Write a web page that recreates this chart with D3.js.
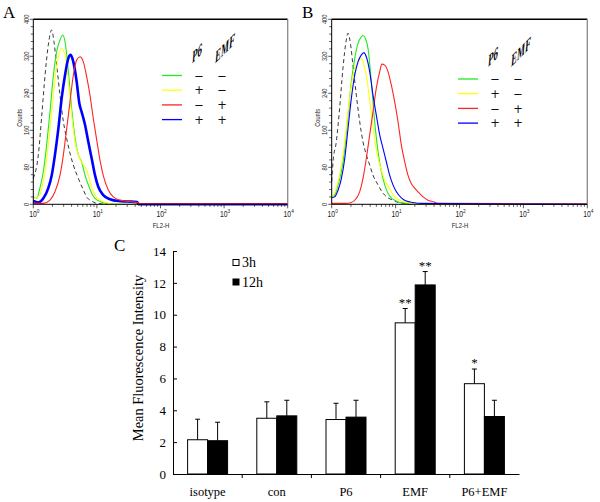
<!DOCTYPE html>
<html><head><meta charset="utf-8">
<script src="https://cdn.jsdelivr.net/npm/d3@7"></script>
<style>body{margin:0;background:#fff}svg{display:block}</style>
</head><body>
<svg id="fig" width="600" height="502"></svg>
<script>
// ---------- DATA ----------
// Panel A histograms: [FL2-H, counts]
const histA_isotype = [[1.00,56],[1.20,107],[1.36,193],[1.53,279],[1.72,344],[1.95,377],[2.11,352],[2.33,301],[2.63,236],[2.97,179],[3.35,142],[3.78,110],[4.26,85],[5.11,56],[6.12,31],[6.90,16],[8.28,7],[9.91,2],[15,0]];
const histA_con = [[1.00,16],[1.13,13],[1.27,35],[1.44,71],[1.62,128],[1.83,200],[2.07,279],[2.33,330],[2.63,355],[2.90,366],[3.15,352],[3.56,287],[4.01,207],[4.53,143],[5.11,107],[5.75,92],[6.50,63],[7.33,42],[8.28,24],[9.33,13],[11.2,6],[14.3,2],[20,0],[10000,0]];
const histA_P6 = [[1.00,13],[1.20,16],[1.36,35],[1.53,71],[1.72,128],[1.95,200],[2.19,272],[2.48,319],[2.79,337],[3.15,323],[3.56,265],[4.01,193],[4.53,135],[5.11,107],[6.12,85],[6.90,74],[7.78,49],[8.79,27],[9.91,14],[11.9,7],[15.1,2],[20,0],[10000,0]];
const histA_EMF = [[1.00,2],[1.44,2],[1.83,9],[2.19,27],[2.63,63],[2.97,107],[3.35,164],[3.78,222],[4.26,279],[4.81,312],[5.42,319],[6.12,308],[6.90,276],[7.78,236],[8.79,185],[9.91,140],[11.2,95],[12.6,62],[15.1,31],[18.1,16],[23.1,9],[33.1,6],[45,3],[50,1],[10000,1]];
const histA_P6EMF = [[1.00,7],[1.20,4],[1.44,13],[1.72,35],[1.95,63],[2.19,107],[2.48,164],[2.79,229],[3.15,279],[3.56,316],[3.87,323],[4.26,308],[4.81,265],[5.30,218],[5.75,200],[6.50,172],[7.33,135],[8.28,99],[9.33,63],[10.5,38],[12.6,20],[16.1,11],[21.7,7],[30,6],[43,5],[45,0],[10000,0]];
// Panel B histograms
const histB_isotype = [[1.00,49],[1.05,92],[1.18,135],[1.33,207],[1.50,294],[1.69,355],[1.80,370],[1.98,344],[2.15,301],[2.43,236],[2.74,179],[3.09,135],[3.48,107],[3.93,85],[4.43,63],[5.31,42],[6.35,24],[7.60,14],[9.10,9],[10.9,4],[13.9,2],[20,0]];
const histB_con = [[1.00,16],[1.11,20],[1.26,42],[1.42,71],[1.60,121],[1.80,193],[2.03,265],[2.29,315],[2.58,348],[2.91,362],[3.09,365],[3.36,359],[3.70,337],[4.17,265],[4.70,179],[5.31,114],[5.98,71],[6.75,42],[7.60,24],[8.57,14],[9.66,9],[11.6,4],[14.7,2],[20,0],[10000,0]];
const histB_P6 = [[1.00,16],[1.11,24],[1.26,49],[1.42,85],[1.60,135],[1.80,200],[2.03,258],[2.29,294],[2.58,308],[2.91,316],[3.20,301],[3.61,265],[4.07,207],[4.59,150],[5.18,107],[5.85,78],[6.58,56],[7.43,42],[8.57,27],[9.66,16],[11.6,9],[14.7,4],[18.7,1],[25,0],[10000,0]];
const histB_EMF = [[1.00,2],[1.60,2],[2.03,4],[2.43,13],[2.74,27],[3.09,56],[3.48,99],[3.93,150],[4.43,200],[4.99,251],[5.64,287],[6.12,303],[6.75,301],[7.60,287],[8.57,258],[9.66,222],[10.9,179],[12.3,128],[13.9,92],[15.6,63],[17.6,45],[19.9,35],[22.4,27],[26.9,16],[32.1,9],[40,5],[45,2],[10000,1]];
const histB_P6EMF = [[1.00,14],[1.11,16],[1.26,31],[1.42,56],[1.60,99],[1.80,164],[2.03,229],[2.29,279],[2.58,308],[2.91,323],[3.20,328],[3.48,319],[3.93,287],[4.43,236],[4.99,193],[5.64,150],[6.35,121],[7.16,92],[8.07,63],[9.10,42],[10.3,27],[12.3,14],[14.7,7],[18.7,4],[25.3,2],[10000,0]];

const countTicks = [0, 80, 160, 240, 320, 400];
const flDecades = [0, 1, 2, 3, 4];
const legendP6  = ["\u2212", "+", "\u2212", "+"];
const legendEMF = ["\u2212", "\u2212", "+", "+"];
const legendHeaders = ["P6", "EMF"];

// Panel C
const categories = ["isotype", "con", "P6", "EMF", "P6+EMF"];
const seriesNames = ["3h", "12h"];
const mean3h  = [2.15, 3.50, 3.42, 9.49, 5.67];
const err3h   = [1.29, 1.03, 1.02, 0.90, 0.92];
const mean12h = [2.09, 3.65, 3.57, 11.87, 3.61];
const err12h  = [1.16, 0.98, 1.06, 0.84, 1.02];
const sig3h   = ["", "", "", "**", "*"];
const sig12h  = ["", "", "", "**", ""];
const meanTicks = [0, 2, 4, 6, 8, 10, 12, 14];

// ---------- DRAW ----------
const svg = d3.select("#fig");
const sans = "'Liberation Sans', Arial, sans-serif";
const serif = "'Liberation Serif', 'Times New Roman', serif";
const colIso = "#222222", colCon = "#22e822", colP6 = "#ffff10", colEMF = "#ff2424", colBoth = "#0000ff";
const legendColors = [colCon, colP6, colEMF, colBoth];

function drawHist(letter, letterX, left, right, curves, legX, legY0) {
  const top = 19.3, bottom = 204.3;
  const g = svg.append("g");
  const x = d3.scaleLog().domain([1, 1e4]).range([left, right]);
  const y = d3.scaleLinear().domain([0, 400]).range([bottom, top]);

  g.append("text").attr("x", letterX).attr("y", 18).attr("font-family", serif)
    .attr("font-size", 17).text(letter);

  d3.range(0, 401, 16).forEach(v => {
    const major = countTicks.includes(v);
    g.append("line").attr("x1", left - (major ? 3.5 : 2.5)).attr("x2", left)
      .attr("y1", y(v)).attr("y2", y(v)).attr("stroke", "#333").attr("stroke-width", 0.8);
  });
  countTicks.forEach(v => {
    g.append("g").attr("transform", `translate(${left - 4.5},${y(v)}) rotate(-90) scale(0.72,1)`)
      .append("text").attr("text-anchor", "middle").attr("font-family", sans)
      .attr("font-size", 8).attr("fill", "#222").text(v);
  });
  g.append("g").attr("transform", `translate(${left - 11.5},${(top + bottom) / 2 + 6}) rotate(-90) scale(0.75,1)`)
    .append("text").attr("text-anchor", "middle").attr("font-family", sans)
    .attr("font-size", 7.5).attr("fill", "#222").text("Counts");

  flDecades.forEach(k => {
    const mults = k < 4 ? d3.range(1, 10) : [1];
    mults.forEach(m => {
      const v = m * Math.pow(10, k);
      g.append("line").attr("x1", x(v)).attr("x2", x(v)).attr("y1", bottom)
        .attr("y2", bottom + (m === 1 ? 4 : 2.5)).attr("stroke", "#333").attr("stroke-width", 0.8);
    });
    const t = g.append("g").attr("transform", `translate(${x(Math.pow(10, k)) + 1},216.5) scale(0.8,1)`)
      .append("text").attr("text-anchor", "middle").attr("font-family", sans)
      .attr("font-size", 8.5).attr("fill", "#222");
    t.append("tspan").text("10");
    t.append("tspan").attr("dy", -3.5).attr("font-size", 6).text(k);
  });
  g.append("g").attr("transform", `translate(${(left + right) / 2 + 0.5},228) scale(0.8,1)`)
    .append("text").attr("text-anchor", "middle").attr("font-family", sans)
    .attr("font-size", 7.5).attr("fill", "#222").text("FL2-H");

  const line = d3.line().x(d => x(d[0])).y(d => y(d[1])).curve(d3.curveMonotoneX);
  curves.forEach(c => {
    g.append("path").datum(c.data).attr("d", line).attr("fill", "none")
      .attr("stroke", c.color).attr("stroke-width", c.width)
      .attr("stroke-dasharray", c.dash || null);
  });

  g.append("line").attr("x1", left).attr("x2", right).attr("y1", top).attr("y2", top)
    .attr("stroke", "#000").attr("stroke-width", 1.4);
  g.append("line").attr("x1", right).attr("x2", right).attr("y1", top).attr("y2", bottom)
    .attr("stroke", "#8a8a8a").attr("stroke-width", 1.3);
  g.append("line").attr("x1", left).attr("x2", left).attr("y1", top).attr("y2", bottom)
    .attr("stroke", "#000").attr("stroke-width", 1);
  g.append("line").attr("x1", left).attr("x2", right).attr("y1", bottom).attr("y2", bottom)
    .attr("stroke", "#000").attr("stroke-width", 1);

  legendColors.forEach((col, i) => {
    const ry = legY0 + i * 14.7;
    g.append("line").attr("x1", legX).attr("x2", legX + 20).attr("y1", ry).attr("y2", ry)
      .attr("stroke", col).attr("stroke-width", 1.3);
    [legendP6[i], legendEMF[i]].forEach((s, j) => {
      g.append("text").attr("x", legX + 37 + j * 23).attr("y", ry + 4.2)
        .attr("text-anchor", "middle").attr("font-family", "'DejaVu Sans', sans-serif")
        .attr("font-size", 11.5).attr("fill", "#111").text(s);
    });
  });
  legendHeaders.forEach((h, j) => {
    g.append("g").attr("transform", `translate(${legX + 30 + j * 23},${legY0 - 12}) skewY(-45) scale(0.95,1.7)`)
      .append("text").attr("font-family", serif).attr("font-style", "italic")
      .attr("font-weight", "bold").attr("font-size", 9.5).text(h);
  });
}

drawHist("A", 3, 33.3, 287.7, [
  {data: histA_isotype, color: colIso, width: 0.9, dash: "4,3"},
  {data: histA_con, color: colCon, width: 1.1},
  {data: histA_P6, color: colP6, width: 1.1},
  {data: histA_P6EMF, color: colBoth, width: 2.6},
  {data: histA_EMF, color: colEMF, width: 1.1}
], 162, 75.5);

drawHist("B", 302, 331.7, 587.3, [
  {data: histB_isotype, color: colIso, width: 0.9, dash: "4,3"},
  {data: histB_con, color: colCon, width: 1.1},
  {data: histB_P6, color: colP6, width: 1.1},
  {data: histB_EMF, color: colEMF, width: 1.1},
  {data: histB_P6EMF, color: colBoth, width: 1.1}
], 458, 79);

// ---------- Panel C ----------
(function(){
  const g = svg.append("g");
  const y = d3.scaleLinear().domain([0, 14]).range([474, 251]);
  const x0 = d3.scaleBand().domain(categories).range([173, 519]).padding(0);
  const bw = x0.bandwidth();
  const x1 = d3.scaleBand().domain(seriesNames).range([bw / 2 - 20, bw / 2 + 20]).padding(0);

  g.append("text").attr("x", 114).attr("y", 251).attr("font-family", serif).attr("font-size", 17).text("C");

  const yAxis = d3.axisLeft(y).tickValues(meanTicks).tickSizeInner(-4).tickSizeOuter(0).tickPadding(7);
  const ya = g.append("g").attr("transform", "translate(173,0)").call(yAxis);
  ya.selectAll("text").attr("font-family", serif).attr("font-size", 13).attr("fill", "#000");
  ya.selectAll("line, path").attr("stroke", "#000");

  const xAxis = d3.axisBottom(x0).tickSize(0).tickPadding(13);
  const xa = g.append("g").attr("transform", "translate(0,474)").call(xAxis);
  xa.selectAll("text").attr("font-family", serif).attr("font-size", 12.5).attr("fill", "#000");
  xa.select("path").attr("stroke", "#000");
  categories.slice(1).forEach(c => {
    g.append("line").attr("x1", x0(c)).attr("x2", x0(c)).attr("y1", 474).attr("y2", 478)
      .attr("stroke", "#000");
  });

  g.append("text").attr("transform", "translate(143,358) rotate(-90)")
    .attr("text-anchor", "middle").attr("font-family", serif).attr("font-size", 14.4)
    .text("Mean Fluorescence Intensity");

  const series = [
    {name: "3h", mean: mean3h, err: err3h, sig: sig3h, fill: "#fff"},
    {name: "12h", mean: mean12h, err: err12h, sig: sig12h, fill: "#000"}
  ];
  series.forEach(s => {
    categories.forEach((c, i) => {
      const bx = x0(c) + x1(s.name), w = x1.bandwidth(), cx = bx + w / 2;
      const top = y(s.mean[i] + s.err[i]);
      g.append("line").attr("x1", cx).attr("x2", cx).attr("y1", y(s.mean[i])).attr("y2", top)
        .attr("stroke", "#000").attr("stroke-width", 1);
      g.append("line").attr("x1", cx - 2.5).attr("x2", cx + 2.5).attr("y1", top).attr("y2", top)
        .attr("stroke", "#000").attr("stroke-width", 1);
      g.append("rect").attr("x", bx).attr("y", y(s.mean[i])).attr("width", w)
        .attr("height", y(0) - y(s.mean[i])).attr("fill", s.fill)
        .attr("stroke", "#000").attr("stroke-width", 1);
      if (s.sig[i]) {
        g.append("text").attr("x", cx).attr("y", top - 2).attr("text-anchor", "middle")
          .attr("font-family", serif).attr("font-size", 13).text(s.sig[i]);
      }
    });
  });

  series.forEach((s, i) => {
    g.append("rect").attr("x", 233).attr("y", 259.5 + i * 19.5).attr("width", 6).attr("height", 6)
      .attr("fill", s.fill).attr("stroke", "#000").attr("stroke-width", 1);
    g.append("text").attr("x", 242).attr("y", 267 + i * 19.5).attr("font-family", serif)
      .attr("font-size", 14).text(s.name);
  });
})();
</script>
</body></html>
